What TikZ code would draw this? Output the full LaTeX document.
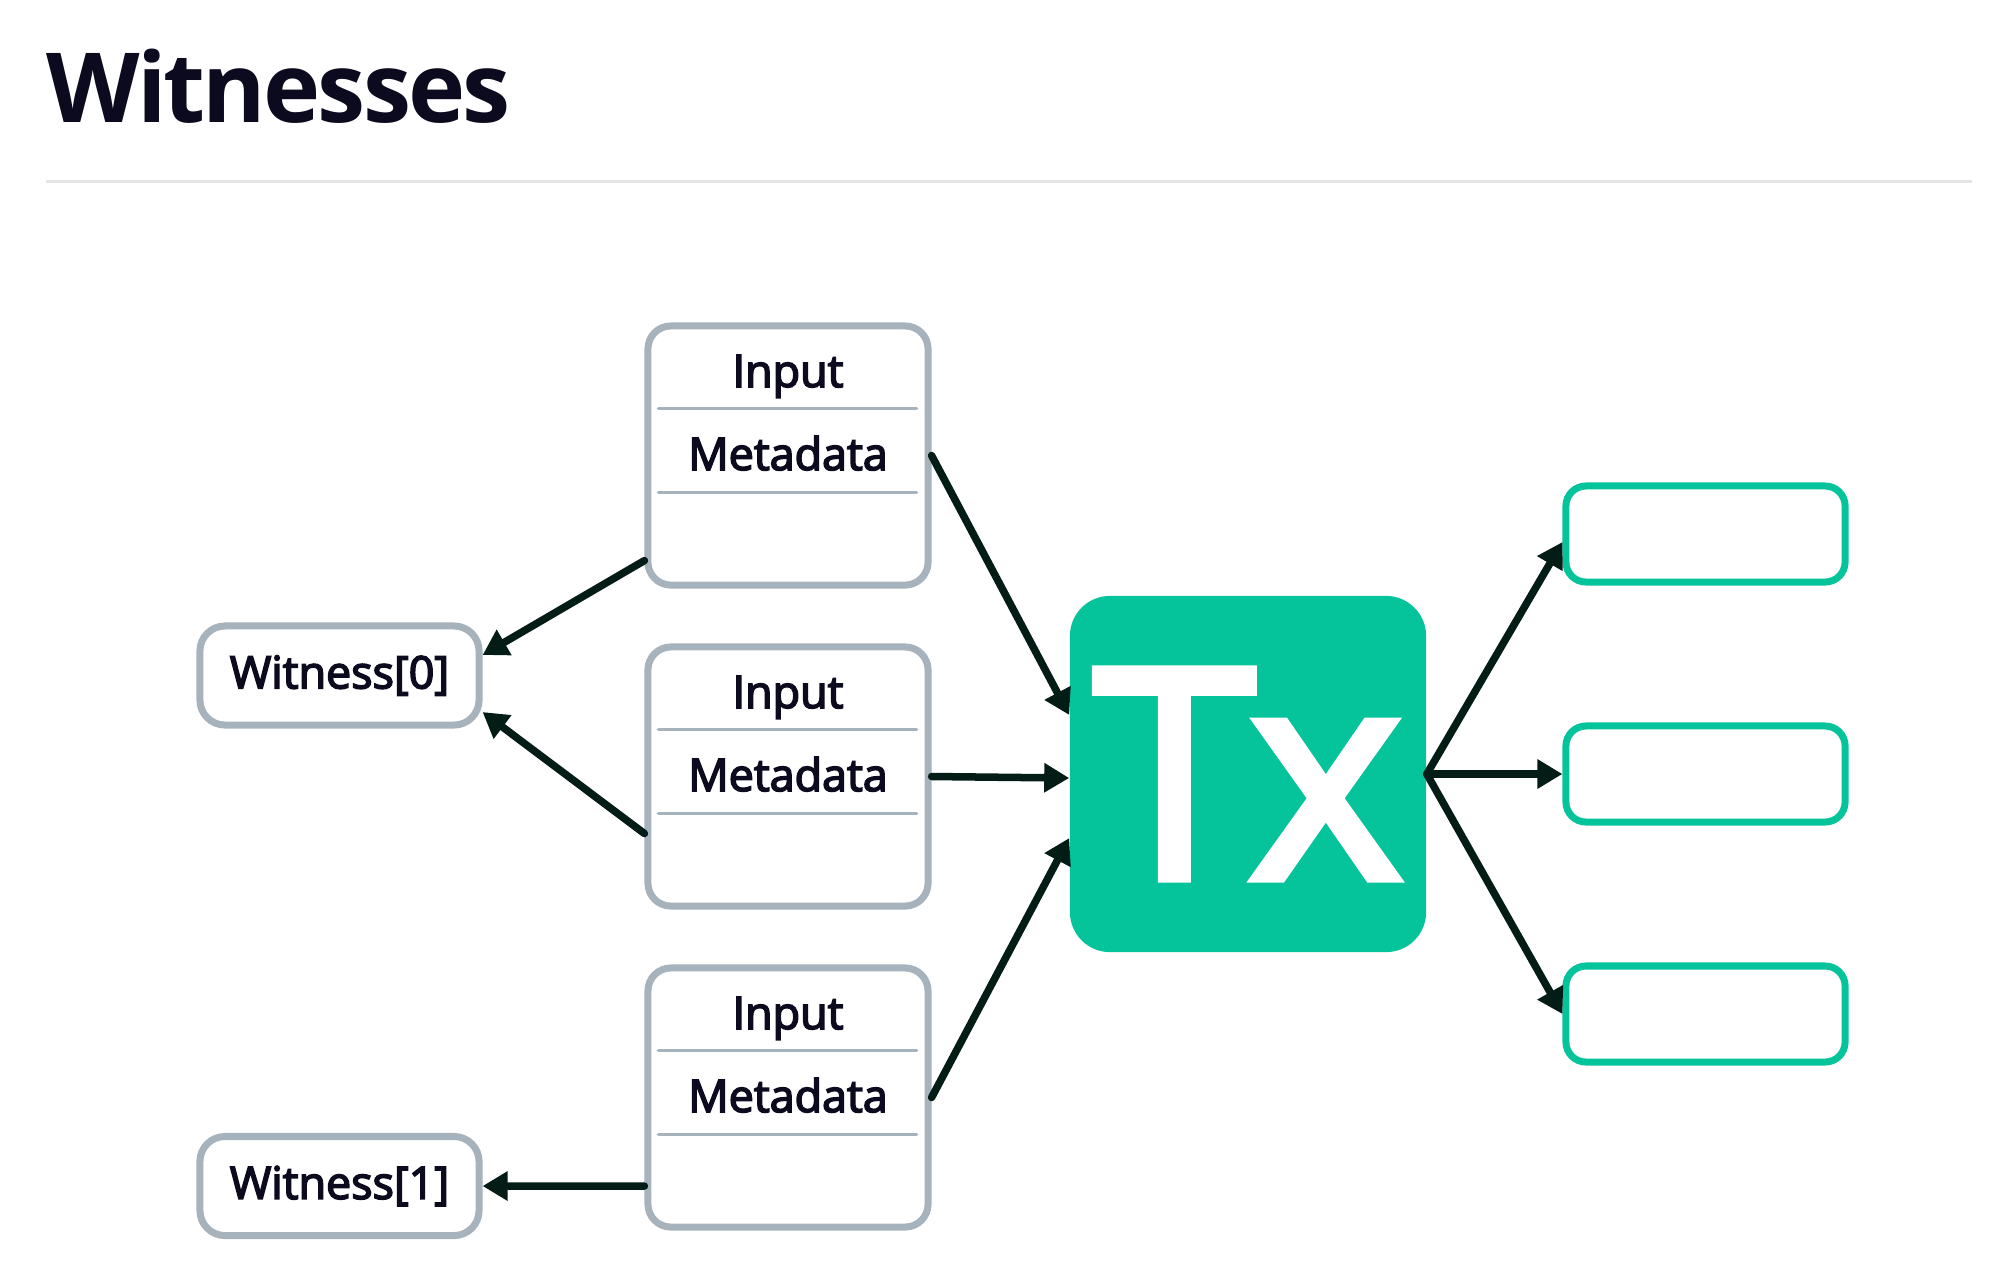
\documentclass[tikz,border=0pt]{standalone}
\usepackage{fontspec}
\setmainfont{Open Sans}
\newfontfamily\boxfont{Open Sans}[FakeBold=3.5]
\newfontfamily\txfont{Open Sans}[FakeBold=3]
\newfontfamily\titlefont{Open Sans}[FakeBold=0, LetterSpace=-3]
\usepackage{tikz}
\usetikzlibrary{arrows.meta}
\usepackage{xcolor}

\definecolor{inkdark}{HTML}{0B0A1E}
\definecolor{arrowdark}{HTML}{031C15}
\definecolor{boxgray}{HTML}{A6B2BC}
\definecolor{txgreen}{HTML}{05C39B}
\definecolor{rulegray}{HTML}{E4E4E4}

\tikzset{
  inbox/.style={draw=boxgray, line width=0.07cm, rounded corners=0.23cm, inner sep=0pt,
    minimum width=2.8cm, minimum height=2.59cm},
  witbox/.style={draw=boxgray, line width=0.07cm, rounded corners=0.25cm, inner sep=0pt,
    minimum width=2.79cm, minimum height=0.99cm, text=inkdark,
    font=\boxfont\fontsize{12.75pt}{14pt}\selectfont},
  outbox/.style={draw=txgreen, line width=0.07cm, rounded corners=0.2cm, inner sep=0pt,
    minimum width=2.79cm, minimum height=0.96cm},
  txbox/.style={fill=txgreen, rounded corners=0.4cm, inner sep=0pt,
    minimum width=3.56cm, minimum height=3.56cm, text=white,
    font=\txfont\fontsize{83pt}{90pt}\selectfont},
  boxtext/.style={anchor=base, inner sep=0pt, text=inkdark,
    font=\boxfont\fontsize{12.75pt}{14pt}\selectfont},
  divider/.style={draw=boxgray, line width=0.035cm, line cap=round},
  arr/.style={draw=arrowdark, line width=0.075cm, line cap=round,
    -{Triangle[length=0.25cm,width=0.28cm]}}
}

\begin{document}
\begin{tikzpicture}[x=0.01cm, y=-0.01cm]
\useasboundingbox (0,0) rectangle (1998,1275);

\node [anchor=base west, inner sep=0pt, text=inkdark,
  font=\titlefont\fontsize{27.5pt}{30pt}\selectfont\bfseries] (title) at (46,122) {Witnesses};
\draw [rulegray, line width=0.03cm] (46,181) -- (1972,181);

\node [inbox] (in1) at (788,455.5) {}; % input 1
\node [inbox] (in2) at (788,776.5) {}; % input 2
\node [inbox] (in3) at (788,1097.5) {}; % input 3
\node [boxtext] (in1a) at (788,387) {Input};
\node [boxtext] (in1b) at (788,470) {Metadata};
\node [boxtext] (in2a) at (788,708) {Input};
\node [boxtext] (in2b) at (788,791) {Metadata};
\node [boxtext] (in3a) at (788,1029) {Input};
\node [boxtext] (in3b) at (788,1112) {Metadata};
\draw [divider] ([xshift=0.14cm,yshift=-0.86cm]in1.north west) -- ([xshift=-0.15cm,yshift=-0.86cm]in1.north east);
\draw [divider] ([xshift=0.14cm,yshift=-1.70cm]in1.north west) -- ([xshift=-0.15cm,yshift=-1.70cm]in1.north east);
\draw [divider] ([xshift=0.14cm,yshift=-0.86cm]in2.north west) -- ([xshift=-0.15cm,yshift=-0.86cm]in2.north east);
\draw [divider] ([xshift=0.14cm,yshift=-1.70cm]in2.north west) -- ([xshift=-0.15cm,yshift=-1.70cm]in2.north east);
\draw [divider] ([xshift=0.14cm,yshift=-0.86cm]in3.north west) -- ([xshift=-0.15cm,yshift=-0.86cm]in3.north east);
\draw [divider] ([xshift=0.14cm,yshift=-1.70cm]in3.north west) -- ([xshift=-0.15cm,yshift=-1.70cm]in3.north east);

\node [witbox] (w0) at (339.5,675.5) {Witness[0]};
\node [witbox] (w1) at (339.5,1186) {Witness[1]};

\node [txbox] (tx) at (1248,774) {Tx};

\node [outbox] (out1) at (1705.5,534) {};
\node [outbox] (out2) at (1705.5,774) {};
\node [outbox] (out3) at (1705.5,1014) {};

% inputs -> witnesses
\draw [arr] ([yshift=-1.05cm]in1.west) -- ([yshift=0.205cm]w0.east);
\draw [arr] ([yshift=-0.57cm]in2.west) -- ([yshift=-0.365cm]w0.east);
\draw [arr] ([yshift=-0.885cm]in3.west) -- (w1.east);
% inputs -> tx
\draw [arr] (in1.east) -- ([yshift=0.59cm]tx.west);
\draw [arr] (in2.east) -- ([yshift=-0.04cm]tx.west);
\draw [arr] (in3.east) -- ([yshift=-0.64cm]tx.west);
% tx -> outputs
\draw [arr] (tx.east) -- ([yshift=-0.08cm]out1.west);
\draw [arr] (tx.east) -- (out2.west);
\draw [arr] (tx.east) -- (out3.west);

\end{tikzpicture}
\end{document}
